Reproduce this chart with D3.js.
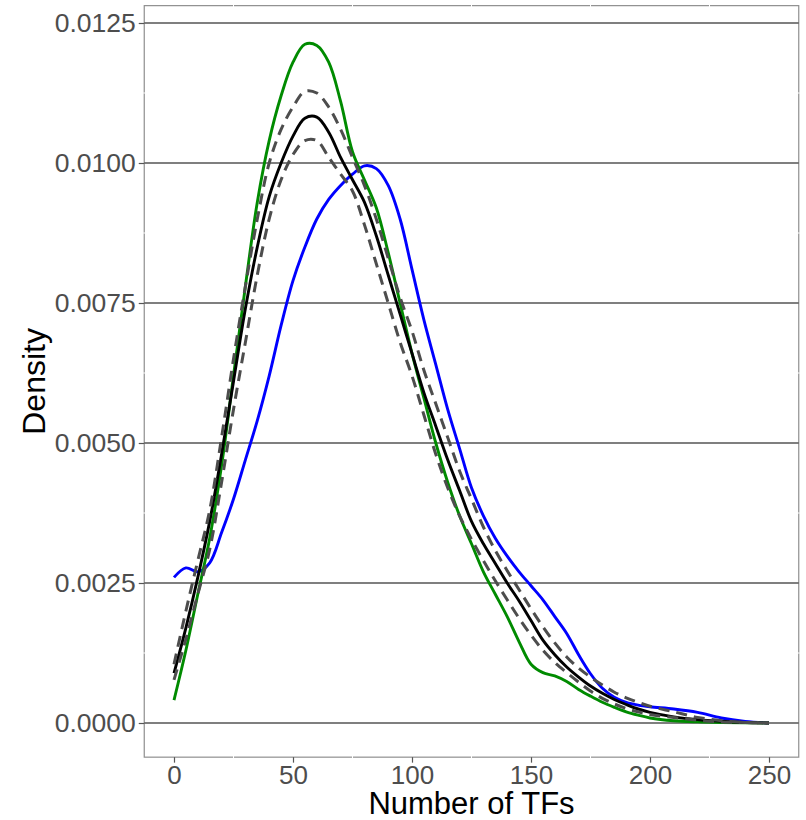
<!DOCTYPE html>
<html>
<head>
<meta charset="utf-8">
<script src="https://cdn.jsdelivr.net/npm/d3@7"></script>
<style>
  html, body { margin: 0; padding: 0; background: #fff; }
  svg { display: block; font-family: "Liberation Sans", Arial, Helvetica, sans-serif; }
</style>
</head>
<body>
<svg id="chart" width="806" height="820"></svg>
<script>
// Number of TFs at which the density estimates are sampled
const tfCounts = [0,5,10,15,20,25,30,35,40,45,50,55,60,65,70,75,80,85,90,95,100,
  105,110,115,120,125,130,135,140,145,150,155,160,165,170,175,180,185,190,195,200,
  210,220,230,240,250];

// Density curves
const densityGreen = [0.00041,0.0013,0.0023,0.0033,0.0046,0.0062,0.0078,0.0093,0.0104,0.0112,0.0118,0.01212,0.0121,0.0118,0.0111,0.0102,
  0.0097,0.0092,0.0084,0.0075,0.0066,0.0058,0.0050,0.0043,0.0037,0.0032,0.0027,0.0023,0.0019,0.00145,0.00105,
  0.0009,0.00084,0.00074,0.0006,0.00048,0.00037,0.00028,0.0002,0.00014,0.00009,
  0.00004,0.00002,0.00001,0.000005,0.0];

const densityBlue = [0.0026,0.00277,0.0027,0.00286,0.0034,0.0040,0.0047,0.0054,0.0062,0.0071,0.0079,0.0085,0.0090,0.00935,0.0096,0.0098,
  0.00995,0.0099,0.0096,0.0090,0.0081,0.0072,0.0064,0.0056,0.0049,0.0042,0.0037,0.0033,0.00298,0.0027,0.00245,
  0.0022,0.0019,0.0016,0.00122,0.00088,0.00062,0.00046,0.00037,0.00032,0.00029,
  0.00025,0.00019,0.00009,0.00003,0.0];

const densityMean = [0.00089,0.0017,0.0026,0.0036,0.0048,0.0061,0.0074,0.0085,0.0094,0.0100,0.01048,0.0108,0.01082,0.01055,0.0101,0.0097,
  0.0093,0.0087,0.0080,0.0073,0.0066,0.0059,0.0053,0.0047,0.00415,0.0036,0.0032,0.00285,0.0025,0.00218,0.00183,
  0.00148,0.00122,0.001,0.00082,0.00066,0.00053,0.00042,0.00033,0.00025,0.00019,
  0.00011,0.00006,0.00003,0.00001,0.0];

const densityUpper = [0.00105,0.0020,0.0029,0.0038,0.0051,0.0065,0.0078,0.0090,0.0100,0.0106,0.0110,0.01128,0.01125,0.0110,0.0106,0.0101,
  0.0096,0.0090,0.0083,0.0076,0.0070,0.0063,0.0057,0.0051,0.0045,0.0040,0.0035,0.00308,0.00272,0.00238,0.00204,
  0.00172,0.00143,0.00118,0.00098,0.00082,0.00068,0.00055,0.00045,0.00037,0.0003,
  0.0002,0.0001,0.00004,0.00001,0.0];

const densityLower = [0.00077,0.0015,0.0023,0.0031,0.0043,0.0056,0.0068,0.0080,0.0090,0.0097,0.01015,0.0104,0.0104,0.0101,0.0098,0.0095,
  0.0089,0.0082,0.0075,0.0068,0.0062,0.0055,0.0048,0.0042,0.0037,0.00328,0.0029,0.00254,0.0022,0.00187,0.00157,
  0.0013,0.00108,0.0009,0.00073,0.00057,0.00044,0.00034,0.00026,0.0002,0.00015,
  0.0001,0.00005,0.00002,0.00001,0.0];

const xTicks = [0, 50, 100, 150, 200, 250];
const xMinor = [25, 75, 125, 175, 225];
const yTicks = [0, 0.0025, 0.005, 0.0075, 0.01, 0.0125];
const yMinor = [0.00125, 0.00375, 0.00625, 0.00875, 0.01125];

const svg = d3.select("#chart");

const x = d3.scaleLinear().domain([-12.5, 262.5]).range([144.25, 798.75]);
const y = d3.scaleLinear().domain([0, 0.0125]).range([723, 23]);

const panelLeft = x(-12.5), panelRight = x(262.5);
const panelTop = y(0.01281), panelBottom = y(-0.00061);

// panel border
svg.append("rect")
  .attr("x", panelLeft).attr("y", panelTop)
  .attr("width", panelRight - panelLeft).attr("height", panelBottom - panelTop)
  .attr("fill", "none").attr("stroke", "#8f8f8f").attr("stroke-width", 1.2);

// minor grid (white)
svg.append("g").selectAll("line").data(xMinor).join("line")
  .attr("x1", d => x(d)).attr("x2", d => x(d))
  .attr("y1", panelTop - 1).attr("y2", panelBottom + 1)
  .attr("stroke", "#fff").attr("stroke-width", 1);
svg.append("g").selectAll("line").data(yMinor).join("line")
  .attr("x1", panelLeft - 1).attr("x2", panelRight + 1)
  .attr("y1", d => y(d)).attr("y2", d => y(d))
  .attr("stroke", "#fff").attr("stroke-width", 1);

// major horizontal grid
svg.append("g").selectAll("line").data(yTicks).join("line")
  .attr("x1", panelLeft).attr("x2", panelRight)
  .attr("y1", d => y(d)).attr("y2", d => y(d))
  .attr("stroke", "#555").attr("stroke-width", 1.3);

// axes
const yAxis = d3.axisLeft(y).tickValues(yTicks).tickFormat(d3.format(".4f"))
  .tickSize(5.5).tickPadding(3);
const gy = svg.append("g").attr("transform", `translate(${panelLeft},0)`).call(yAxis);
gy.select(".domain").remove();
gy.selectAll(".tick line").attr("stroke", "#555").attr("stroke-width", 1.2);
gy.selectAll(".tick text").attr("fill", "#4d4d4d").style("font-size", "26.5px")
  .style("font-family", "'Liberation Sans', Arial, sans-serif");

const xAxis = d3.axisBottom(x).tickValues(xTicks).tickFormat(d3.format("d"))
  .tickSize(5.5).tickPadding(2.5);
const gx = svg.append("g").attr("transform", `translate(0,${panelBottom})`).call(xAxis);
gx.select(".domain").remove();
gx.selectAll(".tick line").attr("stroke", "#555").attr("stroke-width", 1.2);
gx.selectAll(".tick text").attr("fill", "#4d4d4d").style("font-size", "26px")
  .style("font-family", "'Liberation Sans', Arial, sans-serif");

// density curves
const line = d3.line()
  .x((d, i) => x(tfCounts[i]))
  .y(d => y(d))
  .curve(d3.curveCatmullRom.alpha(0.5));

const curves = [
  { values: densityBlue,  color: "#0000ff", dash: null, width: 2.9 },
  { values: densityGreen, color: "#008b00", dash: null, width: 2.9 },
  { values: densityMean,  color: "#000000", dash: null, width: 2.9 },
  { values: densityUpper, color: "#4d4d4d", dash: "11,7", width: 3 },
  { values: densityLower, color: "#4d4d4d", dash: "11,7", width: 3 }
];

svg.append("g").selectAll("path").data(curves).join("path")
  .attr("d", c => line(c.values))
  .attr("fill", "none")
  .attr("stroke", c => c.color)
  .attr("stroke-width", c => c.width)
  .attr("stroke-dasharray", c => c.dash)
  .attr("stroke-linejoin", "round");

// axis titles
svg.append("text")
  .attr("x", (panelLeft + panelRight) / 2).attr("y", 814)
  .attr("text-anchor", "middle")
  .style("font-size", "31px").attr("fill", "#000")
  .text("Number of TFs");

svg.append("text")
  .attr("transform", `translate(45,${(panelTop + panelBottom) / 2}) rotate(-90)`)
  .attr("text-anchor", "middle")
  .style("font-size", "32px").attr("fill", "#000")
  .text("Density");
</script>
</body>
</html>
